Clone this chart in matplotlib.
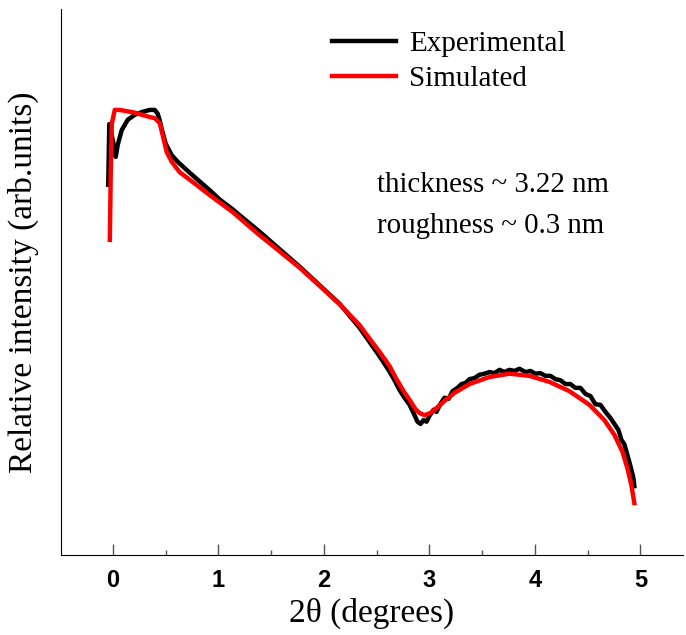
import numpy as np
import matplotlib
matplotlib.use('Agg')
import matplotlib.pyplot as plt
from matplotlib.ticker import MultipleLocator

# Experimental curve (2theta in degrees, relative intensity in arb. units)
exp_x = [-0.043, -0.033, 0.000, 0.028, 0.047, 0.085, 0.142, 0.208, 0.275, 0.350,
         0.398, 0.426, 0.445, 0.464, 0.502, 0.559, 0.616, 0.729, 0.824, 0.919,
         1.013, 1.136, 1.203, 1.392, 1.581, 1.771, 1.960, 2.150, 2.339, 2.434,
         2.528, 2.623, 2.670, 2.718,
         2.765, 2.813, 2.860, 2.888, 2.917, 2.945, 2.973, 3.002, 3.040, 3.068,
         3.106, 3.144, 3.182, 3.220, 3.267, 3.305, 3.343, 3.381, 3.428, 3.475,
         3.523, 3.570, 3.617, 3.665, 3.712, 3.759, 3.807, 3.854, 3.911, 3.958,
         4.006, 4.053, 4.100, 4.148, 4.195, 4.242, 4.290, 4.337, 4.384, 4.432,
         4.479, 4.527, 4.574, 4.621, 4.669, 4.716, 4.754, 4.792, 4.820, 4.848,
         4.877, 4.896, 4.915, 4.934, 4.943]
exp_y = [67.8, 78.9, 76.0, 72.9, 75.1, 77.8, 79.7, 80.6, 81.1, 81.5,
         81.5, 80.8, 79.6, 78.0, 75.3, 73.2, 72.0, 70.0, 68.4, 66.8,
         65.1, 63.3, 62.2, 59.2, 56.0, 52.8, 49.4, 46.0, 41.6, 39.0,
         36.4, 33.6, 32.0, 30.2,
         28.8, 27.5, 25.6, 24.4, 24.0, 24.7, 24.4, 25.5, 26.6, 26.2,
         27.7, 28.8, 28.6, 30.0, 30.6, 31.3, 31.5, 32.2, 32.4, 33.0,
         33.2, 33.5, 33.3, 33.9, 33.5, 33.9, 33.7, 34.1, 33.5, 33.7,
         33.2, 33.3, 32.8, 32.8, 32.2, 32.0, 31.3, 31.3, 30.6, 30.6,
         29.5, 29.1, 27.6, 27.5, 26.2, 25.1, 24.0, 22.9, 21.1, 20.3,
         18.3, 17.0, 15.6, 14.1, 12.6]

# Simulated curve
sim_x = [-0.028, -0.019, -0.009, 0.019, 0.066, 0.208, 0.350, 0.398, 0.445, 0.473,
         0.511, 0.559, 0.634, 0.758, 0.919, 1.136, 1.364, 1.581, 1.771, 1.960,
         2.150, 2.339, 2.434, 2.528, 2.623, 2.689, 2.756, 2.813, 2.869, 2.907,
         2.955, 3.011, 3.068, 3.144, 3.239, 3.381, 3.570, 3.759, 3.949, 4.138,
         4.328, 4.517, 4.659, 4.754, 4.830, 4.877, 4.915, 4.943]
sim_y = [57.7, 70.0, 79.0, 81.5, 81.5, 81.0, 80.2, 80.0, 79.1, 76.9,
         73.8, 72.0, 70.1, 68.3, 65.9, 62.8, 59.0, 55.6, 52.6, 49.3,
         45.9, 42.1, 39.6, 37.2, 34.6, 32.2, 30.0, 28.4, 26.7, 26.0,
         25.6, 26.0, 26.9, 28.2, 29.7, 31.3, 32.6, 33.2, 32.8, 31.7,
         30.0, 27.5, 24.7, 22.0, 18.9, 15.9, 12.8, 9.5]

serif = 'Liberation Serif'

fig = plt.figure(figsize=(6.86, 6.35), dpi=100)
ax = fig.add_axes([0.089, 0.126, 0.906, 0.860])

ax.plot(exp_x, exp_y, color='black', lw=3.2, label='Experimental', solid_joinstyle='round')
ax.plot(sim_x, sim_y, color='#ff0000', lw=3.2, label='Simulated', solid_joinstyle='round')

ax.set_xlim(-0.49, 5.4)
ax.set_ylim(0, 100)

ax.spines['top'].set_visible(False)
ax.spines['right'].set_visible(False)
ax.set_yticks([])

ax.xaxis.set_major_locator(MultipleLocator(1))
ax.xaxis.set_minor_locator(MultipleLocator(0.5))
ax.tick_params(axis='x', which='major', direction='in', length=8, width=1, color='#555555', pad=10)
ax.tick_params(axis='x', which='minor', direction='in', length=3.5, width=1, color='#555555')
for lab in ax.get_xticklabels():
    lab.set_fontfamily('Liberation Sans')
    lab.set_fontweight('bold')
    lab.set_fontsize(17)

ax.set_xlabel('2θ (degrees)', fontfamily=serif, fontsize=24, labelpad=4)
ax.set_ylabel('Relative intensity (arb.units)', fontfamily=serif, fontsize=24, labelpad=16)

leg = ax.legend(loc='upper left', bbox_to_anchor=(0.393, 1.008), frameon=False,
                prop={'family': serif, 'size': 21}, handlelength=2.2,
                handletextpad=0.45, labelspacing=0.3)

ax.text(0.508, 0.678, 'thickness ~ 3.22 nm', transform=ax.transAxes,
        fontfamily=serif, fontsize=20.8, va='center', ha='left')
ax.text(0.508, 0.603, 'roughness ~ 0.3 nm', transform=ax.transAxes,
        fontfamily=serif, fontsize=20.8, va='center', ha='left')

fig.savefig('out.png', dpi=100)
